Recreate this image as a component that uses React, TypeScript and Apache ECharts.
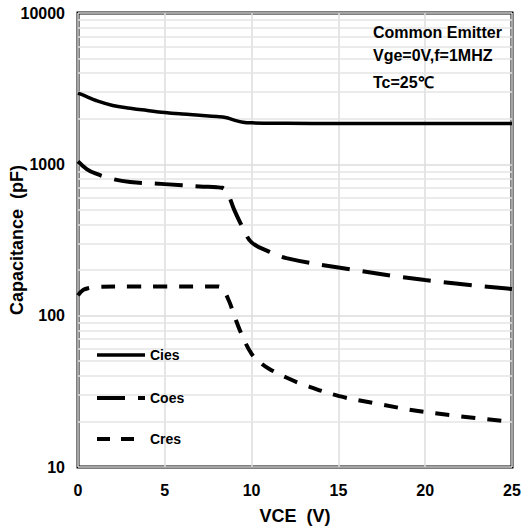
import React, { useEffect, useRef } from "react";
import * as echarts from "echarts";

const xTicks = [0, 5, 10, 15, 20, 25];
const yTicks = [10, 100, 1000, 10000];
const minorGrid = [20, 30, 40, 50, 60, 70, 80, 90, 200, 300, 400, 500, 600, 700, 800, 900, 2000, 3000, 4000, 5000, 6000, 7000, 8000, 9000];

const ciesX = [0, 0.5, 1, 2, 3, 4, 5, 6, 7, 8, 8.5, 9, 9.5, 10, 12, 15, 20, 25];
const ciesY = [2950, 2800, 2650, 2450, 2350, 2270, 2200, 2150, 2110, 2070, 2040, 1960, 1900, 1880, 1870, 1860, 1860, 1860];

const coesX = [0, 0.5, 1, 2, 3, 5, 7, 8, 8.3, 8.6, 9, 9.5, 10, 11, 12, 15, 20, 25];
const coesY = [1045, 930, 870, 800, 765, 740, 715, 705, 700, 650, 500, 380, 305, 265, 240, 208, 172, 150];

const cresX = [0, 0.3, 0.7, 1, 3, 5, 8, 8.3, 8.7, 9, 9.5, 10, 10.5, 11, 12, 13, 15, 17, 20, 25];
const cresY = [136, 148, 153, 155, 156, 156, 156, 152, 125, 100, 72, 56, 49, 44.6, 39, 35, 29.5, 26.5, 23.1, 19.9];

const notes = ["Common Emitter", "Vge=0V,f=1MHZ", "Tc=25℃"];
const legendNames = ["Cies", "Coes", "Cres"];

const zip = (xs: number[], ys: number[]) => xs.map((x, i) => [x, ys[i]]);

export default function App() {
  const ref = useRef<HTMLDivElement>(null);
  useEffect(() => {
    if (!ref.current) return;
    const chart = echarts.init(ref.current, null, { renderer: "svg" });
    const font = "Liberation Sans, Arial, sans-serif";
    const dashes: any[] = [null, [28, 13], [13, 11]];
    const widths = [3.5, 4, 4];
    const legendY = [355, 398, 439];
    const legendGraphics: any[] = [];
    legendNames.forEach((n, i) => {
      legendGraphics.push({
        type: "line",
        z: 100,
        shape: { x1: 97, y1: legendY[i], x2: 145, y2: legendY[i] },
        style: { stroke: "#000", lineWidth: widths[i], lineDash: dashes[i] },
      });
      legendGraphics.push({
        type: "text",
        z: 100,
        x: 150,
        y: legendY[i],
        style: {
          text: n,
          fontSize: 14,
          fontWeight: "bold",
          fill: "#000",
          fontFamily: font,
          verticalAlign: "middle",
        },
      });
    });
    chart.setOption({
      animation: false,
      textStyle: { fontFamily: font },
      grid: {
        left: 78,
        right: 19,
        top: 13,
        bottom: 64,
        containLabel: false,
        outerBoundsMode: "none",
        show: true,
        borderColor: "#000",
        borderWidth: 3,
        backgroundColor: "transparent",
      },
      xAxis: {
        type: "value",
        min: xTicks[0],
        max: xTicks[xTicks.length - 1],
        interval: 5,
        name: "VCE  (V)",
        nameLocation: "middle",
        nameGap: 40,
        nameMoveOverlap: false,
        nameTextStyle: { fontSize: 18, fontWeight: "bold", color: "#000", fontFamily: font },
        axisLine: { show: false },
        axisTick: { show: false },
        axisLabel: { fontSize: 16, fontWeight: "bold", color: "#000", margin: 15, fontFamily: font },
        splitLine: { show: true, lineStyle: { color: "#dcdcdc", width: 1.5 } },
      },
      yAxis: {
        type: "log",
        logBase: 10,
        min: yTicks[0],
        max: yTicks[yTicks.length - 1],
        name: "Capacitance  (pF)",
        nameLocation: "middle",
        nameGap: 52,
        nameMoveOverlap: false,
        nameTextStyle: { fontSize: 18, fontWeight: "bold", color: "#000", fontFamily: font },
        axisLine: { show: false },
        axisTick: { show: false },
        axisLabel: {
          fontSize: 16,
          fontWeight: "bold",
          color: "#000",
          margin: 13,
          fontFamily: font,
          formatter: (v: number) => String(Math.round(v)),
        },
        splitLine: { show: true, lineStyle: { color: "#dcdcdc", width: 1.5 } },
      },
      graphic: [
        ...notes.map((t, i) => ({
          type: "text",
          z: 100,
          x: 373,
          y: [32, 55, 82][i],
          style: {
            text: t,
            fontSize: 16,
            fontWeight: "bold",
            fill: "#000",
            fontFamily: font,
            verticalAlign: "middle",
          },
        })),
        ...legendGraphics,
      ],
      series: [
        {
          name: "grid",
          type: "line",
          data: [],
          silent: true,
          z: 1,
          markLine: {
            silent: true,
            symbol: "none",
            label: { show: false },
            lineStyle: { color: "#e4e4e4", width: 1.5, type: "solid" },
            data: minorGrid.map((v) => ({ yAxis: v })),
          },
        },
        {
          name: "Cies",
          type: "line",
          data: zip(ciesX, ciesY),
          smooth: 0.4,
          symbol: "none",
          z: 5,
          lineStyle: { color: "#000", width: 3.5 },
        },
        {
          name: "Coes",
          type: "line",
          data: zip(coesX, coesY),
          smooth: 0.4,
          symbol: "none",
          z: 5,
          lineStyle: { color: "#000", width: 4, type: [28, 13] },
        },
        {
          name: "Cres",
          type: "line",
          data: zip(cresX, cresY),
          smooth: 0.4,
          symbol: "none",
          z: 5,
          lineStyle: { color: "#000", width: 4, type: [14, 12] },
        },
      ],
    });
    return () => chart.dispose();
  }, []);
  return (
    <div
      ref={ref}
      style={{ position: "fixed", left: 0, top: 0, width: 531, height: 531, background: "#fff" }}
    />
  );
}
